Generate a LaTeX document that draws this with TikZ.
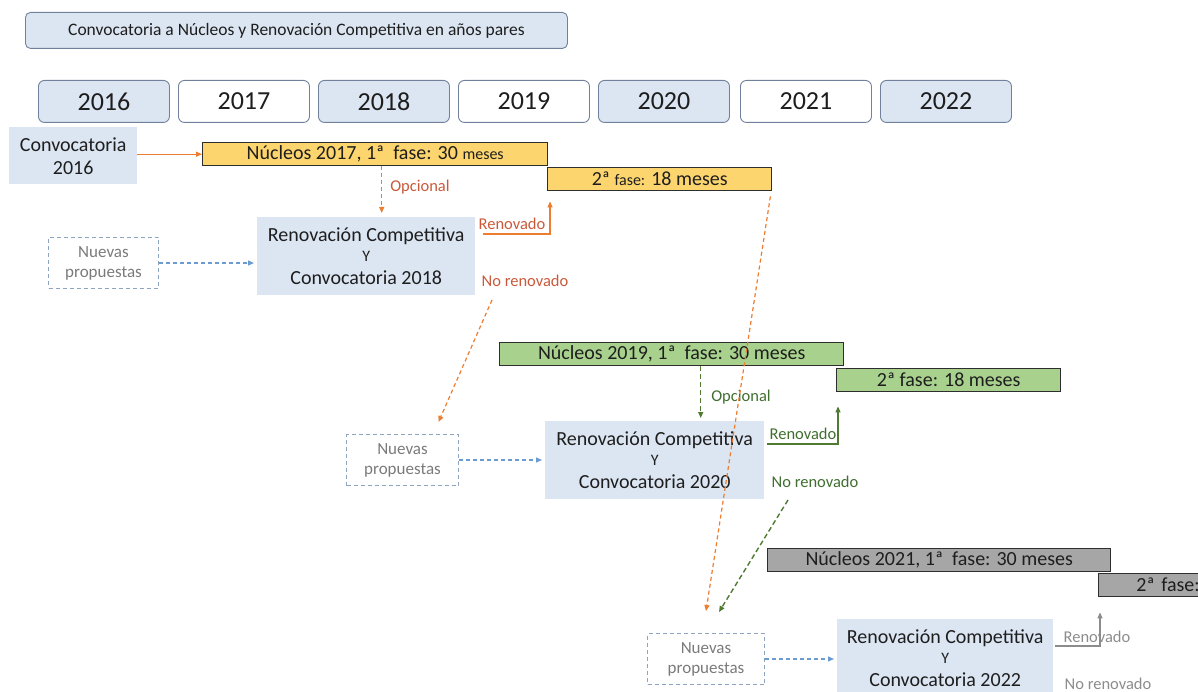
\documentclass[tikz,border=0pt]{standalone}
\usepackage{fontspec}
\setmainfont{Carlito}
\usetikzlibrary{arrows.meta}
\definecolor{lb}{HTML}{DCE6F2}
\definecolor{ybord}{HTML}{71819C}
\definecolor{txt}{HTML}{1E1E1E}
\definecolor{bord}{HTML}{2E2E2E}
\definecolor{yel}{HTML}{FCD56E}
\definecolor{grn}{HTML}{A9D18E}
\definecolor{gry}{HTML}{A6A6A6}
\definecolor{oar}{HTML}{ED7D31}
\definecolor{otx}{HTML}{C9593A}
\definecolor{gar}{HTML}{4E7A31}
\definecolor{gtx}{HTML}{3F6E2E}
\definecolor{kar}{HTML}{8C8C8C}
\definecolor{ktx}{HTML}{8C8C8C}
\definecolor{bar}{HTML}{6A9BD1}
\definecolor{npb}{HTML}{8EA4C0}
\definecolor{npt}{HTML}{7A7A7A}
\begin{document}
\begin{tikzpicture}[x=1pt,y=-1pt,
  titlebox/.style={draw=ybord, fill=lb, rounded corners=5pt, line width=0.9pt, anchor=north west, inner sep=0pt, minimum width=542pt, minimum height=36pt, text=txt, font=\fontsize{17.5}{21}\selectfont},
  yearbox/.style={draw=ybord, rounded corners=6pt, line width=0.9pt, minimum width=131pt, minimum height=42pt, anchor=north west, inner sep=0pt, text=txt, font=\fontsize{26}{30}\selectfont},
  barbox/.style={draw=bord, line width=1.4pt, minimum height=23pt, anchor=north west, inner sep=0pt, text=txt, font=\fontsize{20}{24}\selectfont},
  lbox/.style={fill=lb, anchor=north west, inner sep=0pt, align=center, text=txt, font=\fontsize{20}{23}\selectfont},
  npbox/.style={draw=npb, line width=1pt, dash pattern=on 4pt off 3pt, anchor=north west, inner sep=0pt, align=center, text=npt, minimum height=51pt, font=\fontsize{17}{20}\selectfont},
  lab/.style={inner sep=0pt, font=\fontsize{16.5}{20}\selectfont},
  tip/.style={-{Triangle[length=6pt,width=5pt]}},
  odash/.style={tip, draw=oar, line width=1.2pt, dash pattern=on 4pt off 3pt},
  gdash/.style={tip, draw=gar, line width=1.4pt, dash pattern=on 5pt off 3pt},
  bdash/.style={tip, draw=bar, line width=1.2pt, dash pattern=on 4pt off 3pt}
]
\useasboundingbox (0,0) rectangle (1198,692);

% title
\node[titlebox] (title) at (25,12) {Convocatoria a Núcleos y Renovación Competitiva en años pares};

% years
\foreach \yr/\x/\f in {2016/38/lb,2017/178/white,2018/318/lb,2019/458/white,2020/598/lb,2021/740/white,2022/880/lb}
  \node[yearbox, fill=\f] (y\yr) at (\x,80) {\yr};

% ---------- orange group ----------
\node[lbox, minimum width=128pt, minimum height=57pt] (c16) at (9,127) {Convocatoria\\2016};
\node[barbox, fill=yel, minimum width=345pt] (n17) at (202,142) {Núcleos 2017, 1ª\ \ fase: 30 {\fontsize{16}{20}\selectfont meses}};
\node[barbox, fill=yel, minimum width=224pt] (f2a) at (547,167) {2ª {\fontsize{16}{20}\selectfont fase:} 18 meses};
\node[lbox, minimum width=218pt, minimum height=78pt] (r18) at (257,217) {Renovación Competitiva\\[-3pt]{\fontsize{16}{18}\selectfont Y}\\[0pt]Convocatoria 2018};
\node[npbox, minimum width=110pt] (np1) at (48,237) {Nuevas\\propuestas};
\node[lab, text=otx] (op18) at (420,187) {Opcional};
\node[lab, text=otx] (rn18) at (512,224) {Renovado};
\node[lab, text=otx] (nr18) at (525,281) {No renovado};

\draw[tip, draw=oar, line width=1.2pt] (c16.east |- n17.west) -- (n17.west);
\coordinate (o1) at ([xshift=6.5pt]n17.south);
\draw[odash, shorten >=4pt] (o1) -- (o1 |- r18.north);
\draw[tip, draw=oar, line width=1.2pt] ([xshift=8pt,yshift=-17pt]r18.north east) -| ([xshift=3pt,yshift=-10pt]f2a.south west);
\draw[bdash, shorten >=3pt] (np1.east) -- (np1.east -| r18.west);

% ---------- green group ----------
\node[barbox, fill=grn, minimum width=344pt] (n19) at (499,342) {Núcleos 2019, 1ª\ \ fase: 30 meses};
\node[barbox, fill=grn, minimum width=224pt] (f2b) at (836,368) {2ª fase: 18 meses};
\node[lbox, minimum width=219pt, minimum height=78pt] (r20) at (545,421) {Renovación Competitiva\\[-3pt]{\fontsize{16}{18}\selectfont Y}\\[0pt]Convocatoria 2020};
\node[npbox, minimum width=112pt] (np2) at (346,434) {Nuevas\\propuestas};
\node[lab, text=gtx] (op20) at (741,397) {Opcional};
\node[lab, text=gtx] (rn20) at (803,434) {Renovado};
\node[lab, text=gtx] (nr20) at (815,482) {No renovado};

\coordinate (g1) at ([xshift=29pt]n19.south);
\draw[gdash, shorten >=3pt] (g1) -- (g1 |- r20.north);
\draw[tip, draw=gar, line width=1.2pt] ([xshift=3pt,yshift=-23pt]r20.north east) -| ([xshift=2pt,yshift=-14pt]f2b.south west);
\draw[bdash, shorten >=3pt] (np2.east) -- (np2.east -| r20.west);

% ---------- gray group ----------
\node[barbox, fill=gry, minimum width=343pt] (n21) at (767,548) {Núcleos 2021, 1ª\ \ fase: 30 meses};
\node[barbox, fill=gry, text width=98pt, inner xsep=3pt, align=right] (f2c) at (1098,573) {2ª fase:};
\node[lbox, minimum width=216pt, minimum height=78pt] (r22) at (837,619) {Renovación Competitiva\\[-3pt]{\fontsize{16}{18}\selectfont Y}\\[0pt]Convocatoria 2022};
\node[npbox, minimum width=117pt] (np3) at (647,633) {Nuevas\\propuestas};
\node[lab, text=ktx] (rn22) at (1097,637) {Renovado};
\node[lab, text=ktx] (nr22) at (1108,684) {No renovado};

\draw[tip, draw=kar, line width=1.2pt] ([xshift=2pt,yshift=-27pt]r22.north east) -| ([xshift=2pt,yshift=-15pt]f2c.south west);
\draw[bdash, shorten >=3pt] (np3.east) -- (np3.east -| r22.west);

% ---------- cross-group connectors ----------
\draw[odash] ([xshift=-33pt,yshift=-13pt]nr18.south) -- ([xshift=36pt,yshift=12pt]np2.north);
\draw[odash] ([xshift=-2pt,yshift=-5pt]f2a.south east) -- ([yshift=22pt]np3.north);
\draw[gdash] ([xshift=-27pt,yshift=-12pt]nr20.south) -- ([xshift=13pt,yshift=21pt]np3.north);
\end{tikzpicture}
\end{document}
